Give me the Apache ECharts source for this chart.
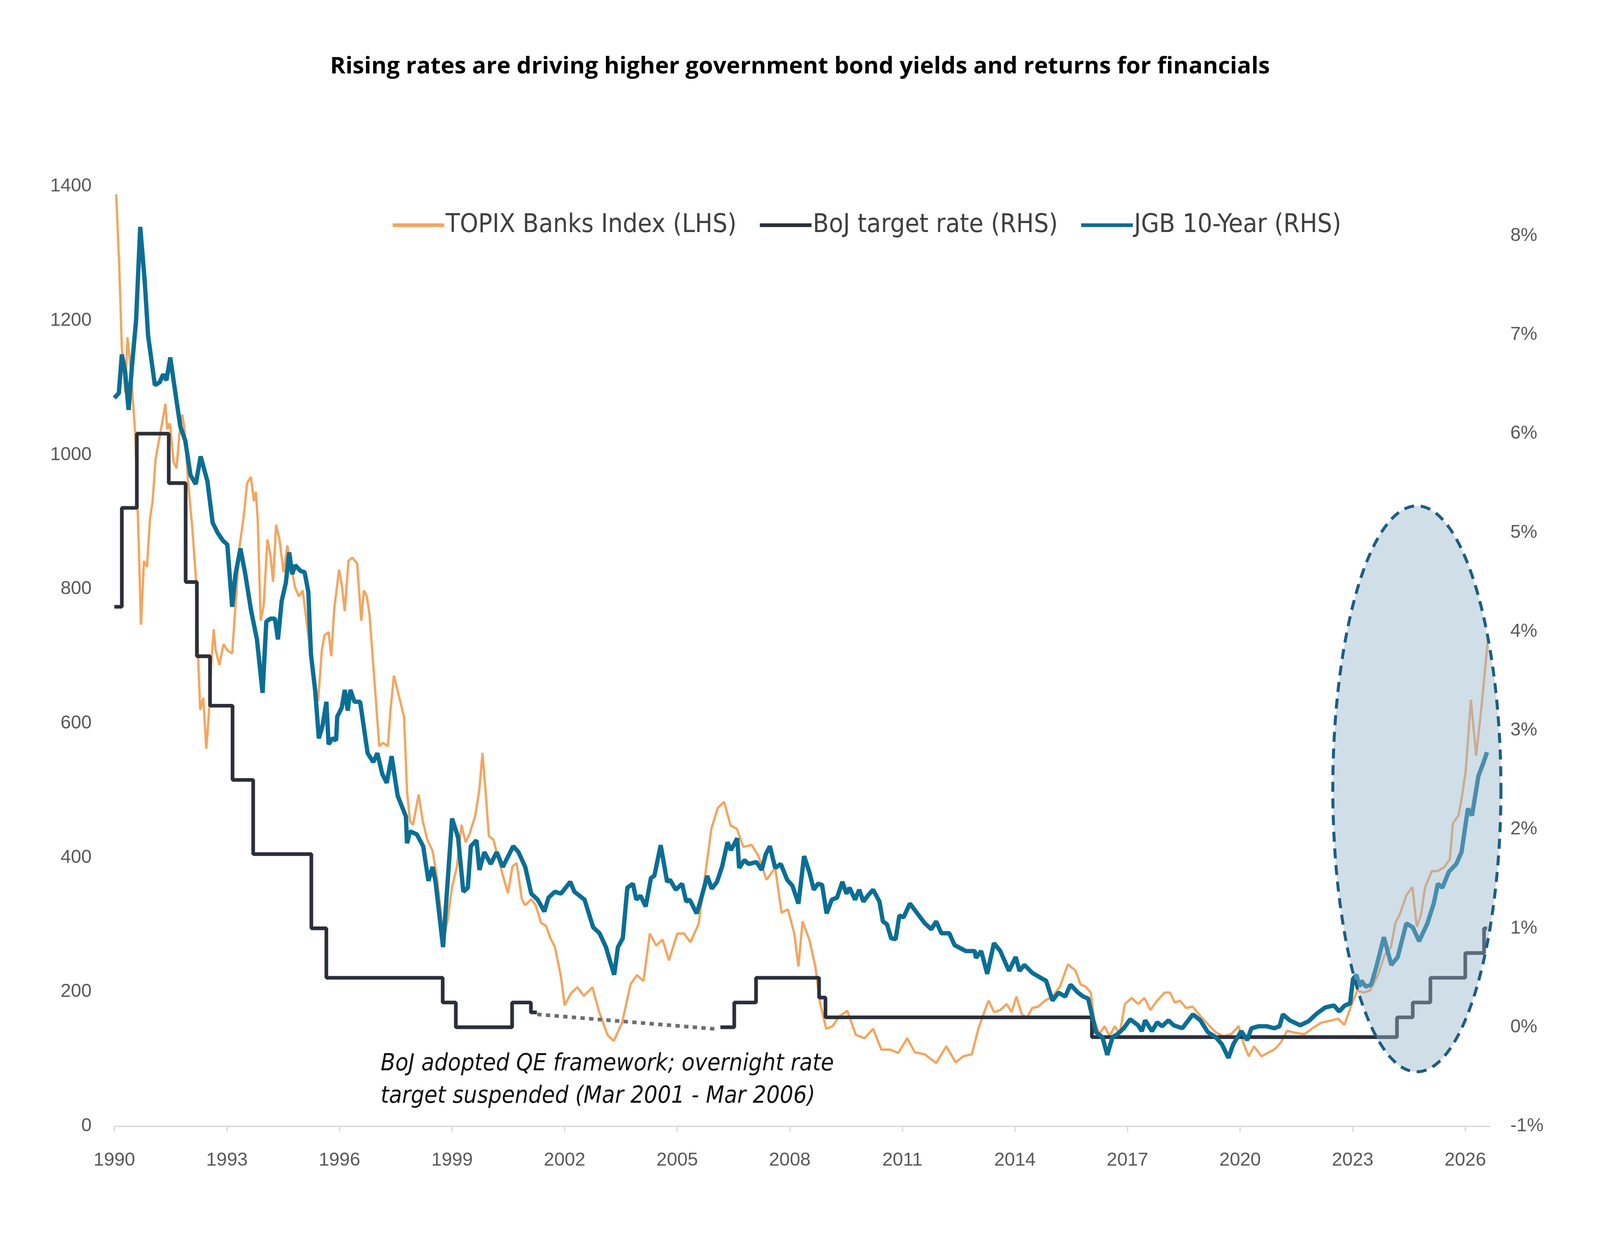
<!DOCTYPE html>
<html>
<head>
<meta charset="utf-8">
<script src="https://cdn.jsdelivr.net/npm/echarts@6/dist/echarts.min.js"></script>
<style>
html,body{margin:0;padding:0;background:#ffffff;overflow:hidden;}
#chart{width:100vw;height:100vh;}
</style>
</head>
<body>
<div id="chart"></div>
<script>
// ---- data (x = year as decimal) ----
const xTicks = [1990,1993,1996,1999,2002,2005,2008,2011,2014,2017,2020,2023,2026];
const leftTicks = [0,200,400,600,800,1000,1200,1400];
const rightTicks = [-1,0,1,2,3,4,5,6,7,8];

const topix = [
[1990.05,1388],[1990.13,1282],[1990.20,1159],[1990.29,1093],[1990.35,1175],[1990.43,1132],[1990.56,1029],[1990.64,887],[1990.71,747],[1990.79,842],[1990.87,833],[1990.95,905],[1991.02,931],[1991.10,994],[1991.20,1025],[1991.30,1056],[1991.36,1076],[1991.41,1038],[1991.48,1047],[1991.58,989],[1991.66,980],[1991.73,1029],[1991.81,1060],[1991.88,1034],[1991.96,963],[1992.07,896],[1992.17,820],[1992.24,687],[1992.29,620],[1992.37,638],[1992.45,562],[1992.52,615],[1992.58,687],[1992.65,740],[1992.70,709],[1992.80,687],[1992.91,718],[1993.01,709],[1993.14,704],[1993.23,776],[1993.34,865],[1993.44,905],[1993.54,958],[1993.64,967],[1993.72,931],[1993.77,945],[1993.82,905],[1993.90,753],[1993.98,776],[1994.08,874],[1994.16,851],[1994.23,811],[1994.31,896],[1994.40,874],[1994.51,825],[1994.61,865],[1994.71,833],[1994.82,802],[1994.92,789],[1995.02,798],[1995.12,753],[1995.22,709],[1995.33,664],[1995.43,633],[1995.53,709],[1995.60,731],[1995.71,736],[1995.78,700],[1995.86,771],[1995.99,829],[1996.06,807],[1996.14,767],[1996.24,842],[1996.34,847],[1996.47,838],[1996.58,753],[1996.65,798],[1996.73,789],[1996.80,762],[1996.96,642],[1997.06,566],[1997.16,571],[1997.29,566],[1997.36,620],[1997.45,671],[1997.72,610],[1997.80,499],[1997.88,454],[1997.96,449],[1998.11,494],[1998.22,454],[1998.34,427],[1998.48,410],[1998.59,374],[1998.68,329],[1998.77,276],[1998.88,307],[1999.00,356],[1999.13,387],[1999.25,449],[1999.36,423],[1999.47,436],[1999.62,463],[1999.73,503],[1999.81,556],[1999.90,494],[1999.98,432],[2000.10,427],[2000.22,401],[2000.35,374],[2000.49,347],[2000.61,387],[2000.72,392],[2000.86,338],[2000.95,329],[2001.11,338],[2001.23,329],[2001.37,303],[2001.51,298],[2001.62,280],[2001.74,267],[2001.90,223],[2002.00,180],[2002.17,198],[2002.34,207],[2002.51,194],[2002.74,207],[2002.91,172],[2003.14,136],[2003.31,127],[2003.53,154],[2003.76,212],[2003.93,225],[2004.10,216],[2004.27,287],[2004.44,269],[2004.61,278],[2004.78,247],[2005.00,287],[2005.18,287],[2005.35,274],[2005.57,301],[2005.74,372],[2005.91,443],[2006.08,474],[2006.25,483],[2006.42,448],[2006.59,443],[2006.76,416],[2006.98,419],[2007.16,403],[2007.38,367],[2007.61,385],[2007.78,318],[2007.95,323],[2008.12,287],[2008.23,238],[2008.34,305],[2008.52,278],[2008.68,238],[2008.80,185],[2008.97,145],[2009.14,149],[2009.31,163],[2009.53,172],[2009.76,136],[2009.99,131],[2010.22,145],[2010.44,114],[2010.67,114],[2010.89,109],[2011.13,131],[2011.33,110],[2011.60,107],[2011.90,94],[2012.17,119],[2012.42,95],[2012.62,104],[2012.85,107],[2013.03,146],[2013.20,173],[2013.30,187],[2013.44,170],[2013.61,173],[2013.78,182],[2013.91,170],[2014.04,193],[2014.18,167],[2014.32,161],[2014.46,176],[2014.62,178],[2014.80,187],[2015.00,193],[2015.20,208],[2015.41,241],[2015.61,232],[2015.75,211],[2015.88,208],[2016.02,199],[2016.11,158],[2016.25,137],[2016.39,149],[2016.52,134],[2016.66,149],[2016.79,137],[2016.93,182],[2017.11,191],[2017.28,182],[2017.45,191],[2017.61,173],[2017.79,187],[2017.99,199],[2018.13,199],[2018.26,184],[2018.40,187],[2018.56,176],[2018.74,178],[2018.94,164],[2019.14,152],[2019.35,140],[2019.55,134],[2019.76,137],[2019.96,149],[2020.10,122],[2020.23,104],[2020.37,119],[2020.57,104],[2020.77,110],[2020.93,115],[2021.09,125],[2021.25,142],[2021.48,139],[2021.71,137],[2021.93,146],[2022.16,154],[2022.39,157],[2022.61,160],[2022.78,151],[2022.95,178],[2023.12,202],[2023.29,199],[2023.46,202],[2023.68,226],[2023.85,255],[2024.02,267],[2024.14,303],[2024.25,315],[2024.43,344],[2024.59,356],[2024.71,297],[2024.82,315],[2024.93,356],[2025.11,380],[2025.27,380],[2025.44,386],[2025.59,398],[2025.67,451],[2025.82,463],[2025.90,487],[2026.01,528],[2026.15,635],[2026.29,552],[2026.43,623],[2026.60,724]
];

const bojRate = [
[1990.00,4.25],[1990.20,5.25],[1990.60,6.00],[1991.45,5.50],[1991.90,4.50],[1992.20,3.75],[1992.55,3.25],[1993.15,2.50],[1993.70,1.75],[1995.25,1.00],[1995.65,0.50],[1998.75,0.25],[1999.10,0.00],[2000.60,0.25],[2001.10,0.15],[2001.25,0.15],
[2001.26,null],
[2006.15,0.00],[2006.52,0.25],[2007.10,0.50],[2008.78,0.30],[2008.95,0.10],[2016.05,-0.10],[2024.18,0.10],[2024.60,0.25],[2025.07,0.50],[2026.00,0.75],[2026.50,1.00],[2026.58,1.00]
];

const qeGap = [[2001.27,0.13],[2006.10,-0.02]];

const jgb10y = [
[1990.00,6.36],[1990.12,6.41],[1990.20,6.80],[1990.29,6.62],[1990.38,6.24],[1990.47,6.68],[1990.58,7.15],[1990.69,8.09],[1990.81,7.54],[1990.90,6.99],[1991.08,6.49],[1991.21,6.52],[1991.30,6.60],[1991.39,6.54],[1991.49,6.77],[1991.67,6.30],[1991.76,6.07],[1991.89,5.93],[1992.03,5.58],[1992.17,5.49],[1992.30,5.77],[1992.48,5.52],[1992.62,5.10],[1992.75,5.00],[1992.89,4.92],[1993.01,4.88],[1993.14,4.25],[1993.23,4.58],[1993.36,4.84],[1993.49,4.58],[1993.64,4.22],[1993.80,3.92],[1993.95,3.38],[1994.05,4.10],[1994.16,4.13],[1994.28,4.13],[1994.36,3.92],[1994.46,4.31],[1994.57,4.49],[1994.66,4.80],[1994.74,4.58],[1994.82,4.67],[1994.97,4.61],[1995.07,4.60],[1995.17,4.40],[1995.24,3.77],[1995.35,3.41],[1995.45,2.92],[1995.55,3.05],[1995.65,3.29],[1995.71,2.86],[1995.81,2.92],[1995.91,2.90],[1995.94,3.14],[1996.06,3.23],[1996.14,3.41],[1996.22,3.20],[1996.29,3.41],[1996.40,3.29],[1996.55,3.29],[1996.75,2.77],[1996.90,2.68],[1997.01,2.77],[1997.14,2.56],[1997.26,2.47],[1997.39,2.74],[1997.55,2.34],[1997.77,2.13],[1997.80,1.86],[1997.88,1.98],[1998.06,1.95],[1998.23,1.83],[1998.37,1.48],[1998.48,1.62],[1998.56,1.47],[1998.76,0.81],[1999.00,2.11],[1999.16,1.92],[1999.30,1.37],[1999.42,1.41],[1999.50,1.83],[1999.65,1.89],[1999.73,1.59],[1999.86,1.77],[2000.03,1.65],[2000.19,1.77],[2000.35,1.62],[2000.63,1.83],[2000.77,1.77],[2000.95,1.62],[2001.11,1.35],[2001.28,1.29],[2001.46,1.17],[2001.57,1.31],[2001.74,1.37],[2001.90,1.35],[2002.15,1.47],[2002.26,1.37],[2002.53,1.29],[2002.76,1.01],[2002.93,0.95],[2003.10,0.81],[2003.32,0.53],[2003.42,0.81],[2003.55,0.90],[2003.67,1.41],[2003.82,1.45],[2003.91,1.29],[2004.02,1.33],[2004.16,1.22],[2004.30,1.51],[2004.39,1.53],[2004.56,1.84],[2004.73,1.47],[2004.81,1.49],[2004.96,1.39],[2005.13,1.45],[2005.24,1.27],[2005.33,1.29],[2005.52,1.15],[2005.63,1.29],[2005.80,1.53],[2005.92,1.40],[2006.06,1.47],[2006.20,1.63],[2006.34,1.87],[2006.43,1.79],[2006.60,1.91],[2006.65,1.61],[2006.79,1.69],[2006.90,1.65],[2007.11,1.67],[2007.25,1.59],[2007.36,1.75],[2007.47,1.83],[2007.61,1.61],[2007.76,1.65],[2007.93,1.49],[2008.07,1.43],[2008.23,1.25],[2008.38,1.73],[2008.52,1.57],[2008.64,1.39],[2008.75,1.45],[2008.86,1.44],[2008.98,1.15],[2009.12,1.29],[2009.26,1.31],[2009.40,1.47],[2009.51,1.35],[2009.59,1.41],[2009.74,1.29],[2009.85,1.39],[2009.96,1.27],[2010.08,1.33],[2010.22,1.39],[2010.39,1.27],[2010.48,1.07],[2010.59,1.04],[2010.70,0.90],[2010.82,0.89],[2010.92,1.13],[2011.03,1.11],[2011.20,1.25],[2011.40,1.15],[2011.60,1.05],[2011.77,0.99],[2011.90,1.07],[2012.04,0.95],[2012.25,0.95],[2012.39,0.83],[2012.69,0.77],[2012.93,0.77],[2012.96,0.70],[2013.10,0.77],[2013.26,0.54],[2013.44,0.85],[2013.61,0.77],[2013.84,0.57],[2014.02,0.71],[2014.12,0.57],[2014.25,0.63],[2014.46,0.55],[2014.73,0.49],[2014.83,0.47],[2015.00,0.27],[2015.16,0.35],[2015.34,0.31],[2015.48,0.43],[2015.68,0.35],[2015.82,0.31],[2015.95,0.29],[2016.16,-0.05],[2016.33,-0.10],[2016.46,-0.28],[2016.60,-0.10],[2016.73,-0.07],[2016.90,-0.01],[2017.07,0.08],[2017.28,0.02],[2017.38,-0.04],[2017.47,0.07],[2017.65,-0.04],[2017.79,0.05],[2017.92,0.01],[2018.09,0.07],[2018.23,0.02],[2018.46,-0.01],[2018.74,0.13],[2018.94,0.07],[2019.14,-0.05],[2019.35,-0.10],[2019.51,-0.17],[2019.69,-0.31],[2019.82,-0.17],[2020.03,-0.04],[2020.19,-0.13],[2020.30,-0.01],[2020.50,0.01],[2020.71,0.01],[2020.91,-0.01],[2021.05,0.01],[2021.14,0.13],[2021.32,0.07],[2021.60,0.02],[2021.82,0.06],[2022.05,0.14],[2022.27,0.20],[2022.50,0.22],[2022.64,0.16],[2022.79,0.22],[2022.93,0.24],[2023.01,0.49],[2023.10,0.53],[2023.18,0.41],[2023.23,0.47],[2023.35,0.41],[2023.49,0.43],[2023.63,0.61],[2023.83,0.91],[2024.03,0.63],[2024.20,0.71],[2024.43,1.05],[2024.60,1.01],[2024.77,0.87],[2024.99,1.05],[2025.16,1.25],[2025.27,1.45],[2025.39,1.41],[2025.56,1.57],[2025.76,1.65],[2025.90,1.77],[2026.07,2.21],[2026.18,2.14],[2026.35,2.54],[2026.47,2.66],[2026.58,2.78]
];

// highlight ellipse: [centre year, centre %, half-width (years), half-height (%)]
const highlight = [[2024.71, 2.41, 2.24, 2.86]];

const titleText = 'Rising rates are driving higher government bond yields and returns for financials';
const noteLines = ['BoJ adopted QE framework; overnight rate', 'target suspended (Mar 2001 - Mar 2006)'];

// ---- chart ----
const el = document.getElementById('chart');
const W = el.clientWidth || 4800, H = el.clientHeight || 3200;
const sx = W/4800, sy = H/3200, s = Math.min(sx, sy);
const X = v => v*sx, Y = v => v*sy, F = v => v*s;

const chart = echarts.init(el, null, {renderer:'canvas'});
const labelFont = {fontFamily:'Liberation Sans, Arial, sans-serif', fontSize:F(56), color:'#595959'};
const narrow = '"Liberation Sans Narrow", "DejaVu Sans Condensed", "Roboto", sans-serif';

chart.setOption({
  animation:false,
  backgroundColor:'#ffffff',
  title:{
    text:titleText, left:'center', top:Y(136),
    textStyle:{fontFamily:'"Open Sans", Lato, sans-serif', fontWeight:'bold', fontSize:F(70), color:'#000000'}
  },
  legend:{
    data:['TOPIX Banks Index (LHS)','BoJ target rate (RHS)','JGB 10-Year (RHS)'],
    left:X(1172), top:Y(538), icon:'rect', itemWidth:X(155), itemHeight:F(11), itemGap:X(70),
    textStyle:{fontFamily:narrow, fontSize:F(78), color:'#404040', padding:[0,0,0,-F(2)]}
  },
  grid:{left:X(343), right:X(331), top:Y(477), bottom:Y(317), containLabel:false},
  xAxis:{
    type:'value', min:1990, max:2026.65,
    axisLine:{show:true, lineStyle:{color:'#d9d9d9', width:F(4)}},
    axisTick:{show:true, length:Y(14), lineStyle:{color:'#d9d9d9', width:F(4)}, customValues:xTicks},
    axisLabel:{...labelFont, margin:Y(64), customValues:xTicks, formatter:v=>String(v)},
    splitLine:{show:false}
  },
  yAxis:[
    {type:'value', min:0, max:1400, interval:200, position:'left',
     axisLine:{show:false}, axisTick:{show:false}, splitLine:{show:false},
     axisLabel:{...labelFont, margin:X(68), customValues:leftTicks, formatter:v=>String(v)}},
    {type:'value', min:-1, max:8.5, interval:1, position:'right',
     axisLine:{show:false}, axisTick:{show:false}, splitLine:{show:false},
     axisLabel:{...labelFont, margin:X(62), customValues:rightTicks, formatter:v=>v+'%'}}
  ],
  series:[
    {name:'TOPIX Banks Index (LHS)', type:'line', yAxisIndex:0, data:topix, showSymbol:false, symbol:'none',
     lineStyle:{color:'#f2a660', width:F(7)}, itemStyle:{color:'#f2a660'}, z:2},
    {name:'BoJ target rate (RHS)', type:'line', yAxisIndex:1, data:bojRate, step:'end', showSymbol:false, symbol:'none', connectNulls:false,
     lineStyle:{color:'#2b2f3a', width:F(11)}, itemStyle:{color:'#2b2f3a'}, z:3},
    {name:'qe', type:'line', yAxisIndex:1, data:qeGap, showSymbol:false, symbol:'none',
     lineStyle:{color:'#6e6e6e', width:F(11), type:[F(13),F(13)]}, z:3, silent:true},
    {name:'JGB 10-Year (RHS)', type:'line', yAxisIndex:1, data:jgb10y, showSymbol:false, symbol:'none',
     lineStyle:{color:'#0b6e95', width:F(13)}, itemStyle:{color:'#0b6e95'}, z:4},
    {name:'highlight', type:'custom', yAxisIndex:1, data:highlight, z:10, silent:true,
     renderItem:function(params, api){
       const cx=api.value(0), cy=api.value(1), hw=api.value(2), hh=api.value(3);
       const c=api.coord([cx,cy]);
       const r=api.coord([cx+hw, cy+hh]);
       const rx=Math.abs(r[0]-c[0]), ry=Math.abs(c[1]-r[1]);
       const pts=[];
       for(let i=0;i<=240;i++){const a=i/240*Math.PI*2; pts.push([c[0]+rx*Math.cos(a), c[1]+ry*Math.sin(a)]);}
       return {type:'polygon', shape:{points:pts},
         style:{fill:'rgba(150,182,205,0.45)', stroke:'#1d5e80', lineWidth:F(9), lineDash:[F(30),F(20)]}};
     }}
  ],
  graphic:[
    {type:'text', left:X(1142), top:Y(2682), style:{text:noteLines.join('\n'), fill:'#111111', fontFamily:narrow, fontStyle:'italic', fontSize:F(71), lineHeight:F(98)}}
  ]
});
window.addEventListener('resize', ()=>chart.resize());
</script>
</body>
</html>
